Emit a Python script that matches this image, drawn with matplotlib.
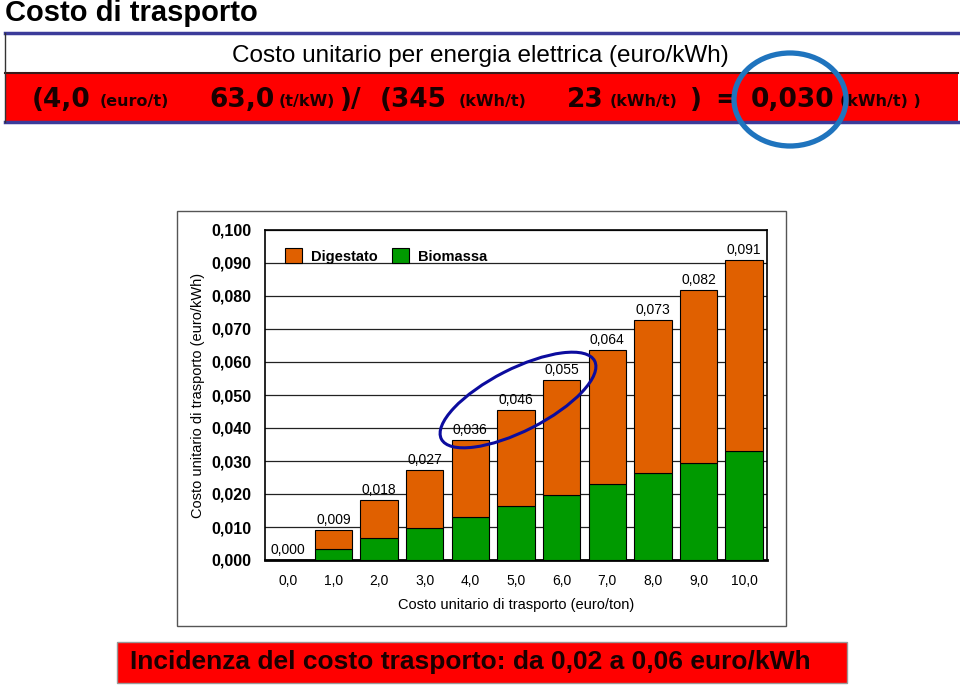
import numpy as np
import matplotlib
matplotlib.use('Agg')
from matplotlib import pyplot as plt
from matplotlib.patches import Rectangle, Ellipse, Patch

plt.rcParams['font.family'] = ['Liberation Sans', 'DejaVu Sans']

# data
costo_ton = ['0,0', '1,0', '2,0', '3,0', '4,0', '5,0', '6,0', '7,0', '8,0', '9,0', '10,0']
biomassa = [0.0, 0.0033, 0.0066, 0.0098, 0.0130, 0.0164, 0.0197, 0.0230, 0.0263, 0.0294, 0.0330]
digestato = [0.0, 0.0058, 0.0116, 0.0175, 0.0234, 0.0291, 0.0349, 0.0407, 0.0465, 0.0525, 0.0580]
totale_lbl = ['0,000', '0,009', '0,018', '0,027', '0,036', '0,046', '0,055', '0,064', '0,073', '0,082', '0,091']
yticks = [0.0, 0.01, 0.02, 0.03, 0.04, 0.05, 0.06, 0.07, 0.08, 0.09, 0.10]
ytick_lbl = ['0,000', '0,010', '0,020', '0,030', '0,040', '0,050', '0,060', '0,070', '0,080', '0,090', '0,100']

formula = [('(4,0', 32, 'big'), ('(euro/t)', 100, 'small'), ('63,0', 209, 'big'),
           ('(t/kW)', 279, 'small'), (')/', 340, 'big'), ('(345', 380, 'big'),
           ('(kWh/t)', 459, 'small'), ('23', 567, 'big'), ('(kWh/t)', 610, 'small'),
           (')', 690, 'big'), ('=', 715, 'big'), ('0,030', 751, 'big'), ('(kWh/t) )', 840, 'small')]

orange = '#E06000'
green = '#009A00'

fig = plt.figure(figsize=(9.6, 6.88), dpi=100)

# chart
ax = fig.add_axes([265/960, (688-560)/688, 502/960, 330/688])
x = np.arange(len(costo_ton))
ax.bar(x, biomassa, width=0.82, color=green, edgecolor='black', linewidth=0.8, zorder=3)
top = ax.bar(x, digestato, bottom=biomassa, width=0.82, color=orange, edgecolor='black', linewidth=0.8, zorder=3)
ax.bar_label(top, labels=totale_lbl, padding=2, fontsize=10)

ax.set_xlim(-0.5, 10.5)
ax.set_ylim(0, 0.1)
ax.set_yticks(yticks)
ax.set_yticklabels(ytick_lbl, fontsize=11.5, fontweight='bold')
ax.set_xticks(x)
ax.set_xticklabels(costo_ton, fontsize=10)
ax.tick_params(length=0)
ax.tick_params(axis='y', pad=10)
ax.tick_params(axis='x', pad=10)
ax.grid(axis='y', color='#222222', linewidth=0.9, zorder=0)
for s in ['left', 'right', 'top']:
    ax.spines[s].set_linewidth(1.2)
ax.spines['bottom'].set_linewidth(2)
ax.set_ylabel('Costo unitario di trasporto (euro/kWh)', fontsize=10.5, labelpad=4)
ax.set_xlabel('Costo unitario di trasporto (euro/ton)', fontsize=10.5, labelpad=7)

leg = ax.legend(handles=[Patch(facecolor=orange, edgecolor='black', linewidth=0.8, label='Digestato'),
                         Patch(facecolor=green, edgecolor='black', linewidth=0.8, label='Biomassa')],
                loc='upper left', bbox_to_anchor=(0.02, 0.975), ncol=2, frameon=False,
                prop={'weight': 'bold', 'size': 10.5}, handlelength=1.15, handleheight=1.15,
                handletextpad=0.6, columnspacing=1.0, borderpad=0.2)
leg.set_zorder(5)

# overlay in pixel units
ov = fig.add_axes([0, 0, 1, 1], facecolor='none')
ov.set_xlim(0, 960)
ov.set_ylim(0, 688)
ov.axis('off')

# chart frame
ov.add_patch(Rectangle((177, 688-626), 786-177, 626-211, fill=False, edgecolor='#555555', linewidth=1))

# header
ov.text(5, 675, 'Costo di trasporto', fontsize=21, fontweight='bold', va='center', ha='left')
ov.add_patch(Rectangle((5, 688-73), 953, 73-33, facecolor='white', edgecolor='none'))
ov.add_patch(Rectangle((5, 688-122), 953, 122-73, facecolor='#FF0000', edgecolor='none'))
ov.plot([5, 958], [688-33, 688-33], color='#3B3B9A', linewidth=2.5)
ov.plot([5, 958], [688-73, 688-73], color='#3A1A1A', linewidth=1.5)
ov.plot([5, 958], [688-122, 688-122], color='#3B3B9A', linewidth=2.5)
ov.plot([5, 5], [688-122, 688-33], color='#333333', linewidth=1)
ov.text(480, 688-56, 'Costo unitario per energia elettrica (euro/kWh)', fontsize=17.5,
        ha='center', va='center')
for txt, xp, kind in formula:
    if kind == 'big':
        ov.text(xp, 688-100, txt, fontsize=19, fontweight='bold', ha='left', va='center',
                color='#1A0000', family=['DejaVu Sans'])
    else:
        ov.text(xp, 688-102, txt, fontsize=11.5, fontweight='bold', ha='left', va='center',
                color='#1A0000', family=['DejaVu Sans'])

# highlight circles
ov.add_patch(Ellipse((790, 688-99.5), 112, 93, fill=False, edgecolor='#1F74BE', linewidth=3.8, zorder=10))
ov.add_patch(Ellipse((518, 688-400), 172, 62, angle=27, fill=False, edgecolor='#0C0C9E', linewidth=2.2, zorder=10))

# bottom box
ov.add_patch(Rectangle((117, 5), 847-117, 41, facecolor='#FF0000', edgecolor='#999999', linewidth=1))
ov.text(130, 26, 'Incidenza del costo trasporto: da 0,02 a 0,06 euro/kWh', fontsize=19,
        fontweight='bold', ha='left', va='center', color='#1A0000')

fig.savefig('out.png', dpi=100)
